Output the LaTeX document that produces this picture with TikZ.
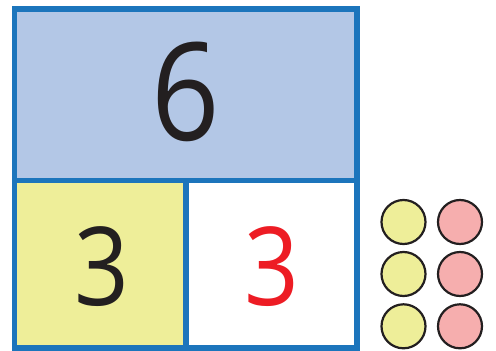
\documentclass[tikz,border=0pt]{standalone}
\usepackage{fontspec}
\usepackage{graphicx}
\setmainfont{Open Sans}
\definecolor{boxblue}{HTML}{1C75BC}
\definecolor{topfill}{HTML}{B3C7E6}
\definecolor{yelfill}{HTML}{EEEE99}
\definecolor{pinkfill}{HTML}{F6AEAE}
\definecolor{digitred}{HTML}{ED1C24}
\definecolor{digitblack}{HTML}{231F20}
\newcommand{\narrowdigit}[1]{\scalebox{0.88}[1]{#1}}
\begin{document}
\begin{tikzpicture}[x=1pt,y=-1pt,
  cell/.style={draw=boxblue, line width=5.5pt, inner sep=0pt, outer sep=0pt, anchor=north west},
  dot/.style={circle, draw=digitblack, line width=2.2pt, minimum size=44pt, inner sep=0pt},
  bigdigit/.style={inner sep=0pt, text=digitblack}]
\useasboundingbox (0,0) rectangle (496,351);
\node[cell, fill=topfill, minimum width=342.5pt, minimum height=171.7pt] (top) at (14.5,9) {};
\node[cell, fill=yelfill, minimum width=171.5pt, minimum height=167.3pt] (bl) at (14.5,180.7) {};
\node[cell, fill=white, minimum width=171pt, minimum height=167.3pt] (br) at (186,180.7) {};
\node[bigdigit, font=\fontsize{136}{136}\selectfont] (six) at (186,91.7) {\narrowdigit{6}};
\node[bigdigit, font=\fontsize{109}{109}\selectfont] (threea) at (102,267) {\narrowdigit{3}};
\node[bigdigit, text=digitred, font=\fontsize{109}{109}\selectfont] (threeb) at (272,267) {\narrowdigit{3}};
\node[dot, fill=yelfill] (y1) at (403.5,222) {};
\node[dot, fill=yelfill] (y2) at (403.5,274) {};
\node[dot, fill=yelfill] (y3) at (403.5,326.3) {};
\node[dot, fill=pinkfill] (p1) at (460,222) {};
\node[dot, fill=pinkfill] (p2) at (460,274) {};
\node[dot, fill=pinkfill] (p3) at (460,326.3) {};
\end{tikzpicture}
\end{document}
